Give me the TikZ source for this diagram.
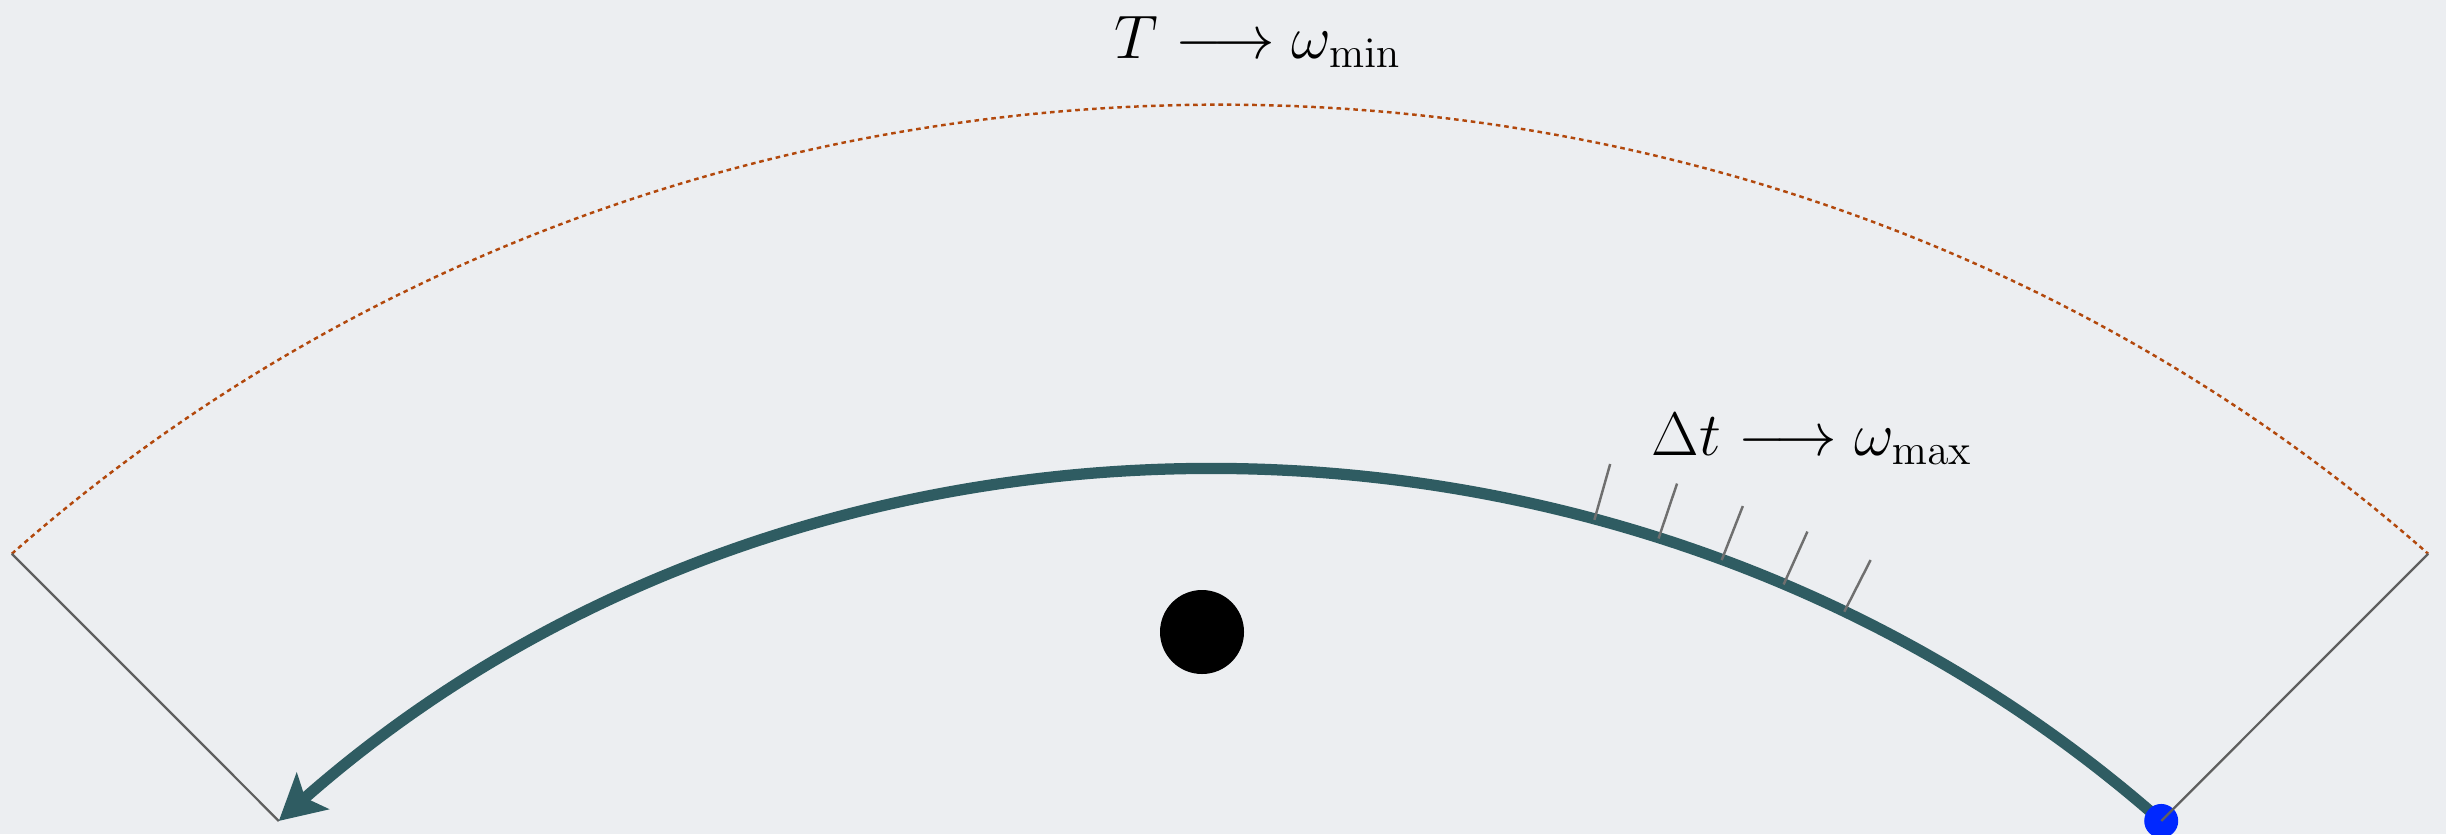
\documentclass[tikz,border=0pt]{standalone}
\usepackage{fix-cm}
\usepackage{amsmath,amssymb}
\usepackage{xcolor}
\usepackage{tikz}
\usetikzlibrary{arrows.meta, calc}

\definecolor{slidebg}{RGB}{236,238,241}
\definecolor{orbitteal}{RGB}{47,92,98}
\definecolor{rimbrown}{RGB}{178,72,12}
\definecolor{spokegray}{RGB}{95,95,95}
\definecolor{dotblue}{RGB}{0,40,255}

\begin{document}
\begin{tikzpicture}[
  outerarc/.style={draw=rimbrown, line width=0.7pt, dash pattern=on 1.3pt off 1.1pt},
  innerarc/.style={draw=orbitteal, line width=3.2pt, -{Stealth[length=4.5mm,width=4.8mm,inset=1mm]}},
  spoke/.style={draw=spokegray, line width=0.65pt},
  tickmark/.style={draw=spokegray!90, line width=0.7pt},
  formula/.style={font=\fontsize{17.5}{21}\selectfont, anchor=base, inner sep=0pt}
]

\fill[slidebg] (0,0) rectangle (24.46,-8.34);
\useasboundingbox (0,0) rectangle (24.46,-8.34);

\coordinate (ctr) at (12.20,-17.62);
\coordinate (rimL) at ($(ctr)+(133.2:17.65 and 16.575)$);
\coordinate (rimR) at ($(ctr)+(46.8:17.65 and 16.575)$);
\coordinate (orbL) at ($(ctr)+(133.2:13.75 and 12.91)$);
\coordinate (orbR) at ($(ctr)+(46.8:13.75 and 12.91)$);

\draw[outerarc] (rimL) arc[start angle=133.2, end angle=46.8, x radius=17.65, y radius=16.575];
\draw[innerarc] (orbR) arc[start angle=46.8, end angle=133.2, x radius=13.75, y radius=12.91];

% time steps along the orbit
\foreach \a in {74.2,71.4,68.6,65.8,63.0}
  \draw[tickmark] ($(ctr)+(\a:13.75 and 12.91)$) -- ($(ctr)+(\a:14.33 and 13.49)$);

\node (star) [circle, fill=black, minimum size=8.4mm, inner sep=0pt] at (12.02,-6.32) {};
\node (planet) [circle, fill=dotblue, minimum size=3.4mm, inner sep=0pt] at (orbR) {};

\draw[spoke] (rimL) -- (orbL);
\draw[spoke] (rimR) -- (planet.center);

\node (Tlabel) [formula] at (12.58,-0.58) {$T \longrightarrow \omega_{\min}$};
\node (dtlabel) [formula] at (18.12,-4.55) {$\Delta t \longrightarrow \omega_{\max}$};

\end{tikzpicture}
\end{document}
